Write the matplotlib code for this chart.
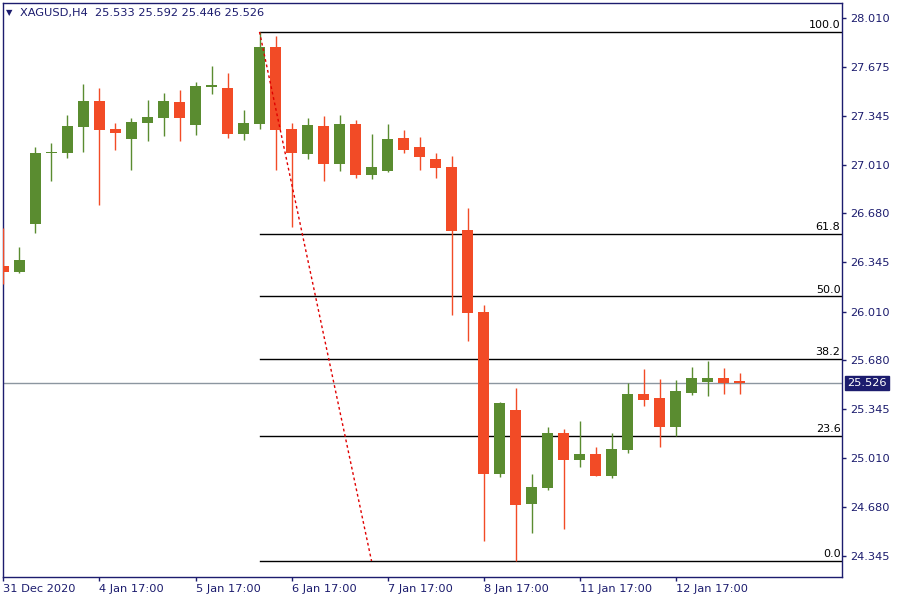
import matplotlib
matplotlib.use("Agg")
import matplotlib.pyplot as plt
import matplotlib.transforms as mtransforms

# XAGUSD H4 candles
opens = [26.321, 26.280, 26.607, 27.087, 27.090, 27.268, 27.445, 27.254, 27.186, 27.295,
         27.329, 27.438, 27.281, 27.543, 27.533, 27.220, 27.288, 27.813, 27.254, 27.084,
         27.274, 27.015, 27.288, 26.940, 26.968, 27.193, 27.131, 27.049, 26.995, 26.566,
         26.007, 24.904, 25.340, 24.699, 24.808, 25.183, 24.999, 25.040, 24.890, 25.067,
         25.449, 25.422, 25.224, 25.455, 25.531, 25.558, 25.533]
highs = [26.579, 26.450, 27.131, 27.158, 27.349, 27.560, 27.533, 27.295, 27.329, 27.451,
         27.499, 27.520, 27.574, 27.683, 27.635, 27.383, 27.915, 27.887, 27.295, 27.329,
         27.342, 27.349, 27.315, 27.220, 27.288, 27.247, 27.199, 27.090, 27.070, 26.716,
         26.055, 25.394, 25.490, 24.904, 25.224, 25.210, 25.265, 25.088, 25.183, 25.524,
         25.622, 25.551, 25.544, 25.633, 25.674, 25.626, 25.592]
lows = [26.198, 26.273, 26.545, 26.900, 27.056, 27.097, 26.736, 27.111, 26.975, 27.172,
        27.206, 27.172, 27.213, 27.492, 27.192, 27.179, 27.254, 26.975, 26.586, 27.049,
        26.900, 26.968, 26.920, 26.913, 26.961, 27.090, 26.975, 26.920, 25.987, 25.810,
        24.447, 24.883, 24.311, 24.502, 24.795, 24.529, 24.951, 24.890, 24.876, 25.047,
        25.367, 25.088, 25.163, 25.442, 25.435, 25.449, 25.446]
closes = [26.280, 26.361, 27.090, 27.090, 27.274, 27.445, 27.247, 27.227, 27.302, 27.336,
          27.445, 27.329, 27.547, 27.554, 27.220, 27.295, 27.813, 27.247, 27.090, 27.281,
          27.015, 27.288, 26.940, 26.995, 27.186, 27.111, 27.063, 26.988, 26.559, 26.000,
          24.904, 25.387, 24.693, 24.815, 25.183, 24.999, 25.040, 24.890, 25.074, 25.449,
          25.408, 25.224, 25.469, 25.558, 25.558, 25.524, 25.526]

xtick_pos = [0, 6, 12, 18, 24, 30, 36, 42]
xtick_labels = ['31 Dec 2020', '4 Jan 17:00', '5 Jan 17:00', '6 Jan 17:00',
                '7 Jan 17:00', '8 Jan 17:00', '11 Jan 17:00', '12 Jan 17:00']
ytick_vals = [28.010, 27.675, 27.345, 27.010, 26.680, 26.345, 26.010,
              25.680, 25.345, 25.010, 24.680, 24.345]

fib_high = 27.915
fib_low = 24.311
fib_start = 16
fib_end = 23
fib_levels = [0.0, 23.6, 38.2, 50.0, 61.8, 100.0]

last_price = 25.526

GREEN = '#5a8c30'
RED = '#f24b26'
NAVY = '#1c1c6e'

fig = plt.figure(figsize=(9, 6), dpi=100)
ax = fig.add_axes([3 / 900, 23 / 600, 839 / 900, 574 / 600])

# candles
for i in range(len(opens)):
    o, h, l, c = opens[i], highs[i], lows[i], closes[i]
    col = GREEN if c >= o else RED
    ax.vlines(i, l, h, color=col, lw=1.0, zorder=3)
    body = max(abs(c - o), 0.008)
    ax.bar(i, body, bottom=min(o, c), width=0.69, color=col, lw=0, zorder=4)

# fibo levels
for lv in fib_levels:
    price = fib_low + (fib_high - fib_low) * lv / 100
    ax.plot([fib_start, 60], [price, price], color='black', lw=1.0, zorder=2)
    ax.text(52.3, price + 0.012, f'{lv:.1f}', ha='right', va='bottom',
            fontsize=8, color='black', zorder=5)
ax.plot([fib_start, fib_end], [fib_high, fib_low], color='#e00000', lw=1.0,
        dashes=(2, 2), zorder=5)

# current price line + tag
ax.axhline(last_price, color='#8c96a0', lw=1.0, zorder=1)
trans = mtransforms.blended_transform_factory(ax.transAxes, ax.transData)
ax.text(1.006, last_price, f'{last_price:.3f}', transform=trans, ha='left', va='center',
        fontsize=8.2, color='white', zorder=6,
        bbox=dict(boxstyle='square,pad=0.18', fc=NAVY, ec=NAVY))

ax.set_xlim(-0.03, 52.4)
ax.set_ylim(24.202, 28.112)

ax.yaxis.tick_right()
ax.set_yticks(ytick_vals)
ax.set_yticklabels([f'{v:.3f}' for v in ytick_vals])
ax.set_xticks(xtick_pos)
ax.set_xticklabels(xtick_labels, ha='left')
ax.tick_params(axis='both', colors=NAVY, labelcolor=NAVY, labelsize=8.2, length=3, width=1)
ax.tick_params(axis='y', pad=3)
ax.tick_params(axis='x', pad=2)
for s in ax.spines.values():
    s.set_color(NAVY)
    s.set_linewidth(1.0)

fig.text(6 / 900, 1 - 13 / 600, '▼', fontsize=6, color=NAVY, va='center')
fig.text(20 / 900, 1 - 13 / 600, 'XAGUSD,H4  25.533 25.592 25.446 25.526',
         fontsize=8.2, color=NAVY, va='center')

fig.savefig('out.png', dpi=100)
